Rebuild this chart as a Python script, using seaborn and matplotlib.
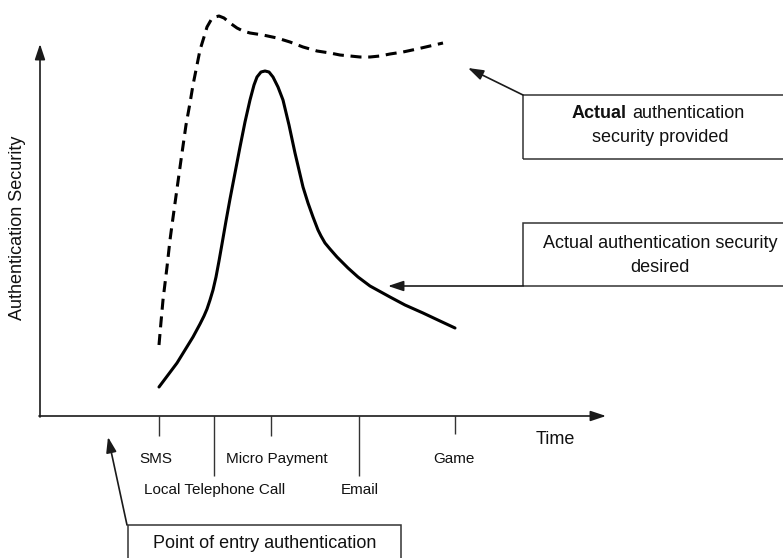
import matplotlib
matplotlib.use("Agg")
import matplotlib.pyplot as plt
import seaborn as sns
import pandas as pd
from matplotlib.patches import Rectangle

# ---------------- data ----------------
desired_x = [119, 128, 137, 145, 153, 160, 164, 167, 170, 173, 176, 179, 182, 186, 190,
             195, 200, 205, 210, 214, 217, 221, 225, 229, 233, 238, 243, 249, 255, 263,
             268, 273, 278, 281, 285, 290, 297, 308, 318, 330, 350, 365, 383, 400, 415]
desired_y = [29, 41, 53, 66, 79, 92, 100, 107, 116, 126, 139, 155, 172, 195, 217,
             243, 269, 294, 316, 331, 339, 344, 345, 344, 339, 329, 316, 291, 263, 229,
             213, 199, 186, 180, 173, 167, 159, 148, 139, 130, 119, 111, 103, 95, 88]

provided_x = [119, 121, 123, 127, 130, 132, 136, 141, 146, 150, 153, 157, 160, 164, 167,
              171, 175, 179, 184, 190, 197, 203, 210, 223, 237, 250, 263, 277, 290, 300,
              310, 320, 330, 340, 350, 363, 377, 390, 403]
provided_y = [71, 94, 116, 149, 176, 191, 220, 256, 291, 313, 331, 351, 366, 379, 389,
              396, 399, 400, 398, 393, 388, 385, 383, 381, 378, 374, 369, 365, 363, 361,
              360, 359, 359, 360, 362, 364, 367, 370, 373]

tick_labels = ["SMS", "Local Telephone Call", "Micro Payment", "Email", "Game"]
tick_pos = [119, 174, 231, 319, 415]
tick_len = [20, 60, 20, 60, 18]

# ---------------- figure ----------------
sns.set_theme(style="white")
plt.rcParams["font.family"] = ["Liberation Sans", "DejaVu Sans"]

fig = plt.figure(figsize=(7.83, 5.58), dpi=100)
ax = fig.add_axes([0, 0, 1, 1])
ax.set_xlim(-40, 743)
ax.set_ylim(-142, 416)
ax.axis("off")

df_d = pd.DataFrame({"t": desired_x, "s": desired_y})
df_p = pd.DataFrame({"t": provided_x, "s": provided_y})
sns.lineplot(data=df_d, x="t", y="s", sort=False, estimator=None, ax=ax,
             color="black", linewidth=2.2, solid_joinstyle="round",
             solid_capstyle="round")
sns.lineplot(data=df_p, x="t", y="s", sort=False, estimator=None, ax=ax,
             color="black", linewidth=2.2, linestyle=(0, (3.6, 2.2)),
             dash_joinstyle="round")

head = "-|>,head_length=0.78,head_width=0.26"
axis_col = "#1a1a1a"
# axes with arrows
ax.annotate("", xy=(566, 0), xytext=(-1, 0),
            arrowprops=dict(arrowstyle=head, mutation_scale=12, color=axis_col,
                            lw=1.2, shrinkA=0, shrinkB=0))
ax.annotate("", xy=(0, 372), xytext=(0, -1),
            arrowprops=dict(arrowstyle=head, mutation_scale=12, color=axis_col,
                            lw=1.2, shrinkA=0, shrinkB=0))

# ticks and labels
ax.vlines(tick_pos, [-l for l in tick_len], 0, color="#333333", lw=1.0)
label_dx = [-3, 1, 6, 1, -1]
label_y = [-43, -74, -43, -74, -43]
for p, lab, dx, ly in zip(tick_pos, tick_labels, label_dx, label_y):
    ax.text(p + dx, ly, lab, ha="center", va="center", fontsize=11, color="#111111")

ax.text(515, -23, "Time", ha="center", va="center", fontsize=13, color="#111111")
ax.text(-22, 188, "Authentication Security", ha="center", va="center",
        rotation=90, fontsize=13, color="#111111")

box_col = "#333333"
# box: actual provided
ax.add_patch(Rectangle((483, 257), 300, 64, fill=False, ec=box_col, lw=1.1))
ax.text(587, 303, "Actual", ha="right", va="center", fontsize=13,
        fontweight="bold", color="#111111")
ax.text(592, 303, "authentication", ha="left", va="center", fontsize=13,
        color="#111111")
ax.text(620, 278, "security provided", ha="center", va="center", fontsize=13,
        color="#111111")
ax.annotate("", xy=(428, 348), xytext=(483, 321),
            arrowprops=dict(arrowstyle=head, mutation_scale=12, color=axis_col,
                            lw=1.2, shrinkA=0, shrinkB=0))

# box: actual desired
ax.add_patch(Rectangle((483, 130), 300, 63, fill=False, ec=box_col, lw=1.1))
ax.text(620, 173, "Actual authentication security", ha="center", va="center",
        fontsize=13, color="#111111")
ax.text(620, 149, "desired", ha="center", va="center", fontsize=13, color="#111111")
ax.annotate("", xy=(348, 130), xytext=(483, 130),
            arrowprops=dict(arrowstyle=head, mutation_scale=12, color=axis_col,
                            lw=1.2, shrinkA=0, shrinkB=0))

# box: point of entry
ax.add_patch(Rectangle((88, -160), 273, 51, fill=False, ec=box_col, lw=1.1))
ax.text(225, -127, "Point of entry authentication", ha="center", va="center",
        fontsize=13, color="#111111")
ax.annotate("", xy=(68, -21), xytext=(87, -109),
            arrowprops=dict(arrowstyle=head, mutation_scale=12, color=axis_col,
                            lw=1.2, shrinkA=0, shrinkB=0))

fig.savefig("out.png", dpi=100)
